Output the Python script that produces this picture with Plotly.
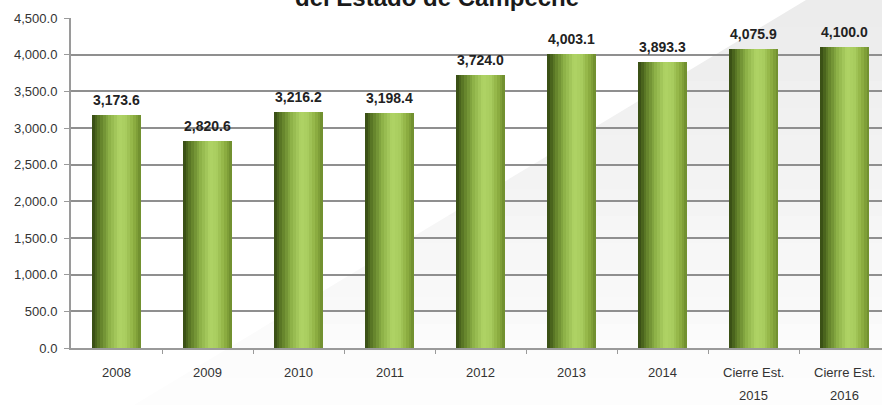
import plotly.graph_objects as go

categories = ["2008", "2009", "2010", "2011", "2012", "2013", "2014",
              "Cierre Est.<br>2015", "Cierre Est.<br>2016"]
values = [3173.6, 2820.6, 3216.2, 3198.4, 3724.0, 4003.1, 3893.3, 4075.9, 4100.0]
y_ticks = [0, 500, 1000, 1500, 2000, 2500, 3000, 3500, 4000, 4500]
title_text = "del Estado de Campeche"

W, H = 882, 405
ML, MR, MT, MB = 71, 0, 18, 57
PH = H - MT - MB

# cylinder shading profile (left -> right)
profile = [(0.00, (52, 72, 18)), (0.15, (92, 122, 38)), (0.35, (140, 176, 70)),
           (0.55, (176, 212, 102)), (0.70, (168, 204, 94)), (0.85, (142, 175, 66)),
           (1.00, (108, 138, 44))]

def shade(t):
    for (t0, c0), (t1, c1) in zip(profile[:-1], profile[1:]):
        if t0 <= t <= t1:
            f = (t - t0) / (t1 - t0)
            return "rgb(%d,%d,%d)" % tuple(round(a + (b - a) * f) for a, b in zip(c0, c1))
    return "rgb(%d,%d,%d)" % profile[-1][1]

xpos = list(range(len(categories)))

fig = go.Figure()
bar_w = 0.54
n = 18
sw = bar_w / n
for i in range(n):
    fig.add_trace(go.Bar(
        x=xpos, y=values, width=sw * 1.08, offset=-bar_w / 2 + i * sw,
        marker=dict(color=shade((i + 0.5) / n), line=dict(width=0)),
        hoverinfo="skip", showlegend=False))

for xi, v in zip(xpos, values):
    fig.add_annotation(x=xi, y=v, text="<b>{:,.1f}</b>".format(v), showarrow=False,
                       yanchor="bottom", yshift=5,
                       font=dict(family="Liberation Sans, Arial", size=14, color="#222222"))

# category labels (two-line labels with wide line spacing)
for xi, c in zip(xpos, categories):
    for li, line in enumerate(c.split("<br>")):
        fig.add_annotation(x=xi, xref="x", yref="paper", y=(H - MB - (372 + 23 * li)) / PH,
                           yanchor="middle", text=line, showarrow=False,
                           font=dict(family="Liberation Sans, Arial", size=13, color="#333333"))

fig.add_annotation(xref="paper", yref="paper", x=(437 - ML) / (W - ML - MR),
                   y=(H - MB - 13) / PH, xanchor="center", yanchor="bottom",
                   text="<b>" + title_text + "</b>", showarrow=False,
                   font=dict(family="Liberation Sans, Arial", size=24, color="#1a1a1a"))

# background diagonal wedge (banded to fade downward)
def px(xp, yp):
    return ((xp - ML) / (W - ML - MR), (H - MB - yp) / PH)

def poly(pts):
    s = ""
    for k, (a, b) in enumerate(pts):
        xx, yy = px(a, b)
        s += ("M" if k == 0 else "L") + " %f %f " % (xx, yy)
    return s + "Z"

def xdiag(y):
    return 806 - y * (806 - 134) / 405

nb = 15
for k in range(nb):
    y0 = H * k / nb
    y1 = H * (k + 1) / nb + 0.5
    g = round(236 + (253 - 236) * k / (nb - 1))
    fig.add_shape(type="path", xref="paper", yref="paper", layer="below",
                  path=poly([(xdiag(y0), y0), (W, y0), (W, y1), (xdiag(y1), y1)]),
                  fillcolor="rgb(%d,%d,%d)" % (g, g, g), line=dict(width=0))

fig.update_layout(
    width=W, height=H, margin=dict(l=ML, r=MR, t=MT, b=MB, autoexpand=False),
    barmode="overlay", bargap=0,
    paper_bgcolor="white", plot_bgcolor="rgba(0,0,0,0)",
    showlegend=False,
    font=dict(family="Liberation Sans, Arial", size=12, color="#333333"),
)
fig.update_xaxes(range=[-0.5, 8.41], tickvals=xpos, showticklabels=False,
                 showline=True, linecolor="#9a9a9a", linewidth=2,
                 ticks="", showgrid=False, zeroline=False, automargin=False,
                 minor=dict(tickvals=[i + 0.5 for i in xpos[:-1]], ticks="outside",
                            ticklen=4, tickcolor="#9a9a9a", showgrid=False))
fig.update_yaxes(range=[0, 4500], tickvals=y_ticks, tickformat=",.1f", showline=True,
                 linecolor="#9a9a9a", linewidth=2, ticks="outside", ticklen=5, tickcolor="#9a9a9a",
                 showgrid=True, gridcolor="#8f8f8f", gridwidth=2, zeroline=False, automargin=False,
                 ticklabelstandoff=4,
                 tickfont=dict(size=13, color="#333333"))

fig.write_html("out.html", config={"displayModeBar": False},
               post_script="document.body.style.margin='0px';document.body.style.overflow='hidden';")
